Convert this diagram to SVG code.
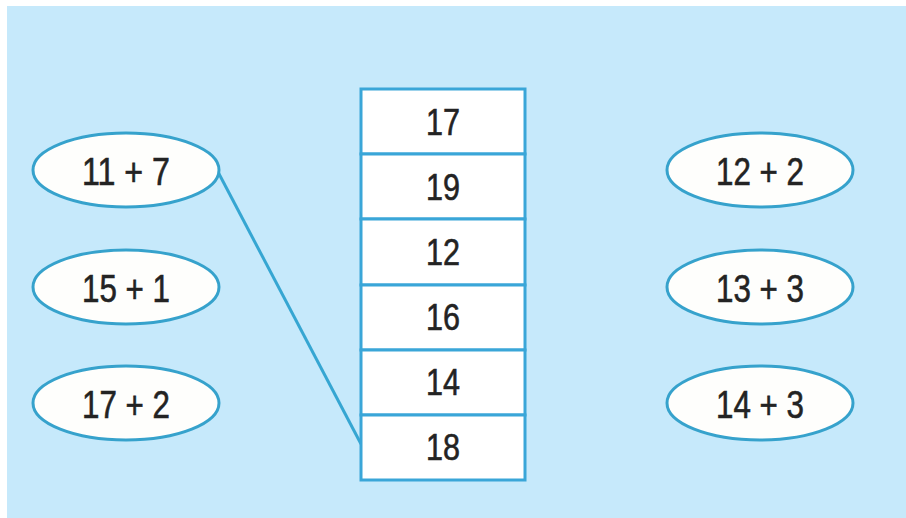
<svg xmlns="http://www.w3.org/2000/svg" width="906" height="518" viewBox="0 0 906 518">
<style>
.bg{fill:#C6E9FB}
.ov{fill:#FEFEFC;stroke:#36A2CC;stroke-width:3}
.cell{fill:#FFFFFF;stroke:#3AA6D8;stroke-width:3}
.t{font-family:"Liberation Sans",Arial,sans-serif;fill:#232323;stroke:#232323;stroke-width:0.6;text-anchor:middle}
.et{font-size:38px}
.ct{font-size:36px}
.ln{stroke:#36A6D2;stroke-width:3;fill:none}
</style>
<rect x="0" y="0" width="906" height="518" fill="#FFFFFF"/>
<rect class="bg" x="7" y="6" width="899" height="512"/>
<g id="connectors">
<line class="ln" x1="217" y1="170" x2="361" y2="444"/>
</g>
<g id="table">
<rect class="cell" x="361" y="89" width="164" height="65"/>
<rect class="cell" x="361" y="154" width="164" height="65"/>
<rect class="cell" x="361" y="219" width="164" height="66"/>
<rect class="cell" x="361" y="285" width="164" height="65"/>
<rect class="cell" x="361" y="350" width="164" height="65"/>
<rect class="cell" x="361" y="415" width="164" height="65"/>
<text class="t ct" x="443" y="135" textLength="34" lengthAdjust="spacingAndGlyphs">17</text>
<text class="t ct" x="443" y="200" textLength="34" lengthAdjust="spacingAndGlyphs">19</text>
<text class="t ct" x="443" y="265" textLength="34" lengthAdjust="spacingAndGlyphs">12</text>
<text class="t ct" x="443" y="330" textLength="34" lengthAdjust="spacingAndGlyphs">16</text>
<text class="t ct" x="443" y="395" textLength="34" lengthAdjust="spacingAndGlyphs">14</text>
<text class="t ct" x="443" y="460" textLength="34" lengthAdjust="spacingAndGlyphs">18</text>
</g>
<g id="n-11-7"><ellipse class="ov" cx="126" cy="170" rx="93" ry="37"/><text class="t et" x="126" y="185" textLength="88" lengthAdjust="spacingAndGlyphs">11 + 7</text></g>
<g id="n-15-1"><ellipse class="ov" cx="126" cy="287" rx="93" ry="37"/><text class="t et" x="126" y="302" textLength="88" lengthAdjust="spacingAndGlyphs">15 + 1</text></g>
<g id="n-17-2"><ellipse class="ov" cx="126" cy="403" rx="93" ry="37"/><text class="t et" x="126" y="418" textLength="88" lengthAdjust="spacingAndGlyphs">17 + 2</text></g>
<g id="n-12-2"><ellipse class="ov" cx="760" cy="170" rx="93" ry="37"/><text class="t et" x="760" y="185" textLength="88" lengthAdjust="spacingAndGlyphs">12 + 2</text></g>
<g id="n-13-3"><ellipse class="ov" cx="760" cy="287" rx="93" ry="37"/><text class="t et" x="760" y="302" textLength="88" lengthAdjust="spacingAndGlyphs">13 + 3</text></g>
<g id="n-14-3"><ellipse class="ov" cx="760" cy="403" rx="93" ry="37"/><text class="t et" x="760" y="418" textLength="88" lengthAdjust="spacingAndGlyphs">14 + 3</text></g>
</svg>
